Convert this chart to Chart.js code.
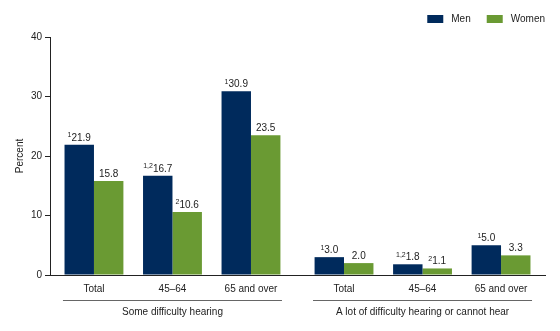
<!DOCTYPE html>
<html><head><meta charset="utf-8">
<script src="https://cdn.jsdelivr.net/npm/chart.js@4/dist/chart.umd.min.js"></script>
<style>html,body{margin:0;padding:0;background:#fff}#wrap{width:560px;height:331px}</style>
</head><body><div id="wrap"><canvas id="c" width="560" height="331"></canvas></div>
<script>
// ---- data ----
const categories = ['Total', '45–64', '65 and over', 'Total', '45–64', '65 and over'];
const groupLabels = ['Some difficulty hearing', 'A lot of difficulty hearing or cannot hear'];
const groupOf = [0, 0, 0, 1, 1, 1];
const seriesNames = ['Men', 'Women'];
const menValues = [21.9, 16.7, 30.9, 3.0, 1.8, 5.0];
const womenValues = [15.8, 10.6, 23.5, 2.0, 1.1, 3.3];
const menNotes = ['1', '1,2', '1', '1', '1,2', '1'];
const womenNotes = ['', '2', '', '', '2', ''];
const yTicks = [0, 10, 20, 30, 40];

// ---- layout ----
const NAVY = '#002a5c';
const GREEN = '#6a9a33';
const TEXT = '#222';
const FONT = "'Liberation Sans', Arial, sans-serif";
const GROUP_GAP = 0.185;
const xPos = categories.map((_, i) => i + groupOf[i] * GROUP_GAP);

const labelPlugin = {
  id: 'barLabels',
  afterDatasetsDraw(chart) {
    const ctx = chart.ctx;
    ctx.save();
    chart.data.datasets.forEach((ds, di) => {
      const meta = chart.getDatasetMeta(di);
      meta.data.forEach((bar, i) => {
        const val = ds.data[i].y.toFixed(1);
        const note = ds.notes[i];
        ctx.font = '10px ' + FONT;
        const wv = ctx.measureText(val).width;
        ctx.font = '7px ' + FONT;
        const wn = note ? ctx.measureText(note).width : 0;
        const total = wv + wn;
        const x0 = bar.x - total / 2;
        const base = bar.y - 4;
        ctx.fillStyle = TEXT;
        ctx.textBaseline = 'alphabetic';
        ctx.textAlign = 'left';
        if (note) {
          ctx.font = '7px ' + FONT;
          ctx.fillText(note, x0, base - 3.5);
        }
        ctx.font = '10px ' + FONT;
        ctx.fillText(val, x0 + wn, base);
      });
    });
    ctx.restore();
  }
};

const groupPlugin = {
  id: 'groupLabels',
  afterDraw(chart) {
    const ctx = chart.ctx;
    const xs = chart.scales.x;
    ctx.save();
    groupLabels.forEach((g, gi) => {
      const idx = groupOf.map((v, i) => v === gi ? i : -1).filter(i => i >= 0);
      const p0 = xs.getPixelForValue(xPos[idx[0]]);
      const p1 = xs.getPixelForValue(xPos[idx[idx.length - 1]]);
      const c = (p0 + p1) / 2;
      const half = (p1 - p0) / 2 + 31;
      ctx.strokeStyle = '#666';
      ctx.lineWidth = 1;
      ctx.beginPath();
      ctx.moveTo(c - half, 300.5);
      ctx.lineTo(c + half, 300.5);
      ctx.stroke();
      ctx.fillStyle = TEXT;
      ctx.font = '10px ' + FONT;
      ctx.textAlign = 'center';
      ctx.textBaseline = 'middle';
      ctx.fillText(g, c, 312);
    });
    // legend
    const colors = chart.data.datasets.map(d => d.backgroundColor);
    ctx.font = '10px ' + FONT;
    ctx.textAlign = 'left';
    ctx.textBaseline = 'middle';
    let right = 545;
    for (let i = seriesNames.length - 1; i >= 0; i--) {
      const w = ctx.measureText(seriesNames[i]).width;
      const tx = right - w;
      const bx = tx - 8 - 16;
      ctx.fillStyle = colors[i];
      ctx.fillRect(bx, 15, 16, 8);
      ctx.fillStyle = TEXT;
      ctx.fillText(seriesNames[i], tx, 19.5);
      right = bx - 16;
    }
    ctx.restore();
  }
};

new Chart(document.getElementById('c'), {
  type: 'bar',
  data: {
    datasets: [
      { label: seriesNames[0], data: menValues.map((v, i) => ({ x: xPos[i], y: v })), backgroundColor: NAVY, notes: menNotes, categoryPercentage: 0.75, barPercentage: 1.0 },
      { label: seriesNames[1], data: womenValues.map((v, i) => ({ x: xPos[i], y: v })), backgroundColor: GREEN, notes: womenNotes, categoryPercentage: 0.75, barPercentage: 1.0 }
    ]
  },
  options: {
    responsive: false,
    animation: false,
    devicePixelRatio: 1,
    layout: { padding: { top: 37, right: 15, bottom: 0, left: 0 } },
    plugins: { legend: { display: false }, tooltip: { enabled: false } },
    scales: {
      x: {
        type: 'linear',
        offset: false,
        min: xPos[0] - 0.56,
        max: xPos[xPos.length - 1] + 0.56,
        grid: { display: false, drawTicks: false },
        border: { display: true, color: '#222', width: 1 },
        afterBuildTicks: s => { s.ticks = xPos.map(v => ({ value: v })); },
        afterFit: s => { s.height = 56; },
        ticks: {
          autoSkip: false, maxRotation: 0, padding: 8, color: TEXT,
          font: { family: FONT, size: 10 },
          callback: (v, i) => categories[i]
        }
      },
      y: {
        min: 0, max: 40,
        afterBuildTicks: s => { s.ticks = yTicks.map(v => ({ value: v })); },
        afterFit: s => { s.width = 50; },
        grid: { display: true, drawOnChartArea: false, drawTicks: true, tickLength: 5, color: '#222' },
        border: { display: true, color: '#222', width: 1 },
        ticks: { padding: 3, color: TEXT, font: { family: FONT, size: 10 } },
        title: { display: true, text: 'Percent', color: TEXT, font: { family: FONT, size: 10 }, padding: { top: 14, bottom: 0 } }
      }
    }
  },
  plugins: [labelPlugin, groupPlugin]
});
</script>
</body></html>
